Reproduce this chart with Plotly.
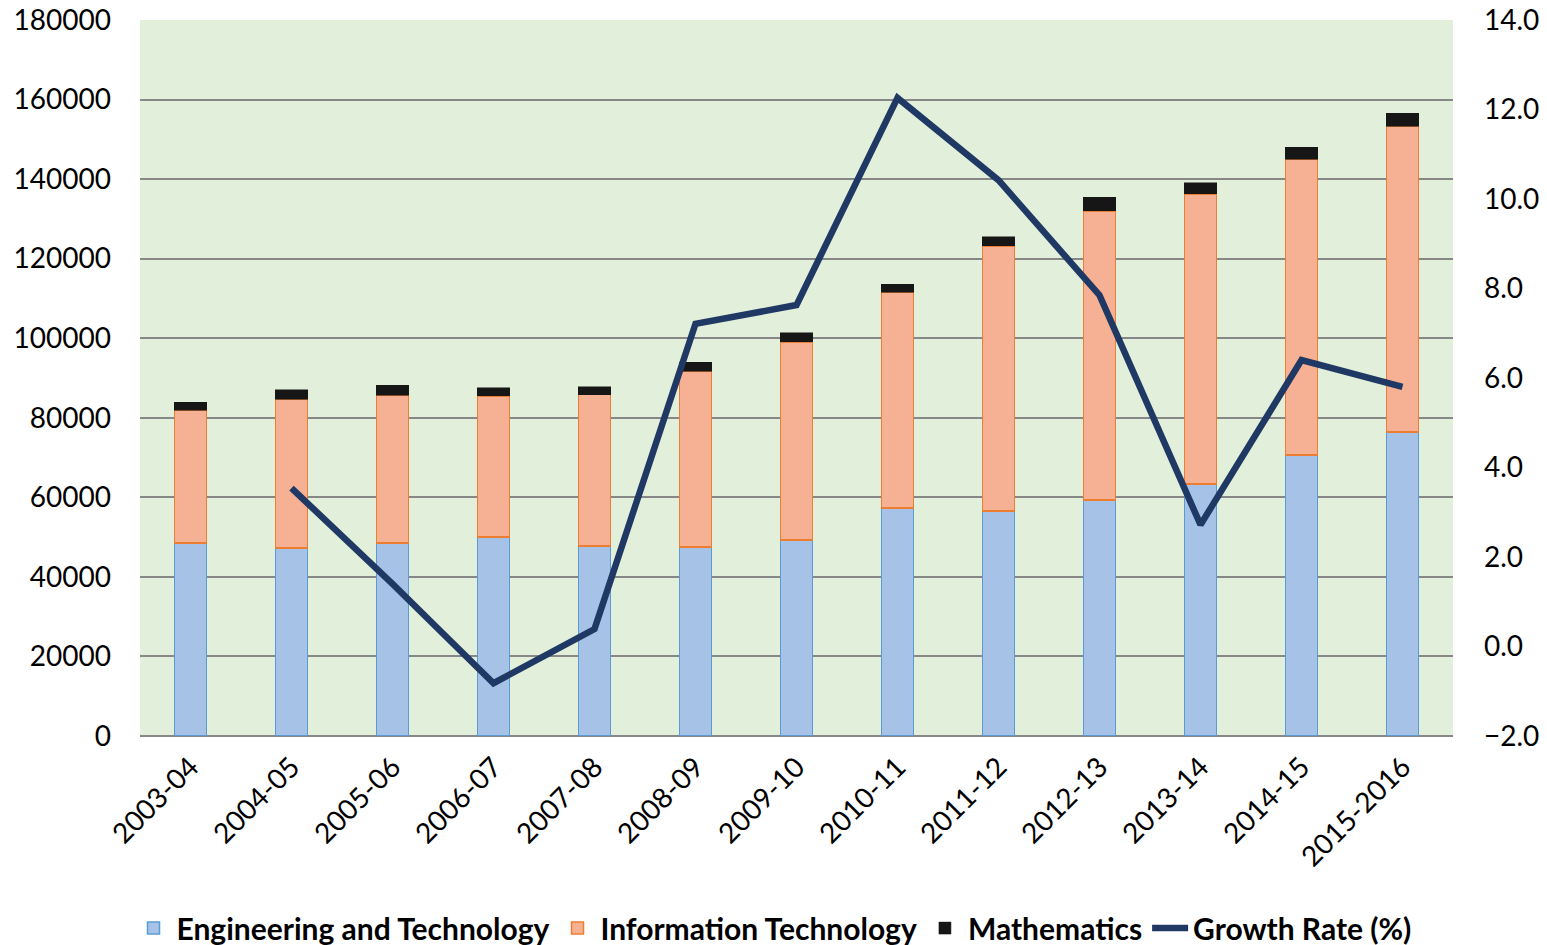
import plotly.graph_objects as go

years = ["2003-04", "2004-05", "2005-06", "2006-07", "2007-08", "2008-09", "2009-10",
         "2010-11", "2011-12", "2012-13", "2013-14", "2014-15", "2015-2016"]
engineering = [48500, 47300, 48500, 50000, 47800, 47500, 49300, 57300, 56600, 59300, 63400, 70600, 76400]
information_tech = [33400, 37400, 37200, 35500, 38000, 44200, 49800, 54300, 66600, 72700, 72900, 74400, 76900]
mathematics = [2000, 2300, 2500, 2000, 2000, 2300, 2300, 2000, 2300, 3500, 2800, 3000, 3300]
growth_rate = [None, 3.54, 1.4, -0.82, 0.39, 7.21, 7.63, 12.26, 10.42, 7.85, 2.72, 6.40, 5.80]

FONT = "Lato"
fig = go.Figure()
fig.add_trace(go.Bar(x=years, y=engineering, name="Engineering and Technology", width=0.32,
                     marker=dict(color="#a6c2e7", line=dict(color="#5b9bd5", width=1.5))))
fig.add_trace(go.Bar(x=years, y=information_tech, name="Information Technology", width=0.32,
                     marker=dict(color="#f6b195", line=dict(color="#ed7d31", width=1.5))))
fig.add_trace(go.Bar(x=years, y=mathematics, name="Mathematics", width=0.32,
                     marker=dict(color="#161616", line=dict(color="#161616", width=0.5))))
fig.add_trace(go.Scatter(x=years, y=growth_rate, name="Growth Rate (%)", mode="lines",
                         line=dict(color="#1f3864", width=6.5), yaxis="y2"))

fig.update_layout(
    barmode="stack",
    width=1547, height=945,
    margin=dict(l=140, r=94, t=20, b=209, autoexpand=False),
    paper_bgcolor="white",
    plot_bgcolor="#e2efda",
    font=dict(family=FONT, size=28, color="black"),
    xaxis=dict(type="category", showgrid=False, tickangle=-45, ticks="", ticklabelstandoff=8,
               tickfont=dict(size=28), showline=False, zeroline=False, automargin=False),
    yaxis=dict(range=[0, 180000], dtick=20000, tickformat="d", showgrid=True,
               gridcolor="#878787", gridwidth=2, zeroline=True, zerolinecolor="#878787",
               zerolinewidth=2, ticks="", ticklabelstandoff=28, showline=False, automargin=False,
               ticklabeloverflow="allow"),
    yaxis2=dict(range=[-2, 14], dtick=2, tickformat=".1f", overlaying="y", side="right",
                showgrid=False, zeroline=False, ticks="", ticklabelstandoff=30, showline=False,
                automargin=False, ticklabeloverflow="allow"),
    legend=dict(orientation="h", xref="container", x=0.5, xanchor="center", y=-0.232,
                yanchor="top", font=dict(size=30, family=FONT, weight="bold"), itemwidth=36,
                traceorder="normal", tracegroupgap=0),
    showlegend=True,
)

# remove the browser's default 8px body margin so the figure fills the window exactly
fig.write_html("out.html", config={"displayModeBar": False},
               post_script="document.body.style.margin='0';")
